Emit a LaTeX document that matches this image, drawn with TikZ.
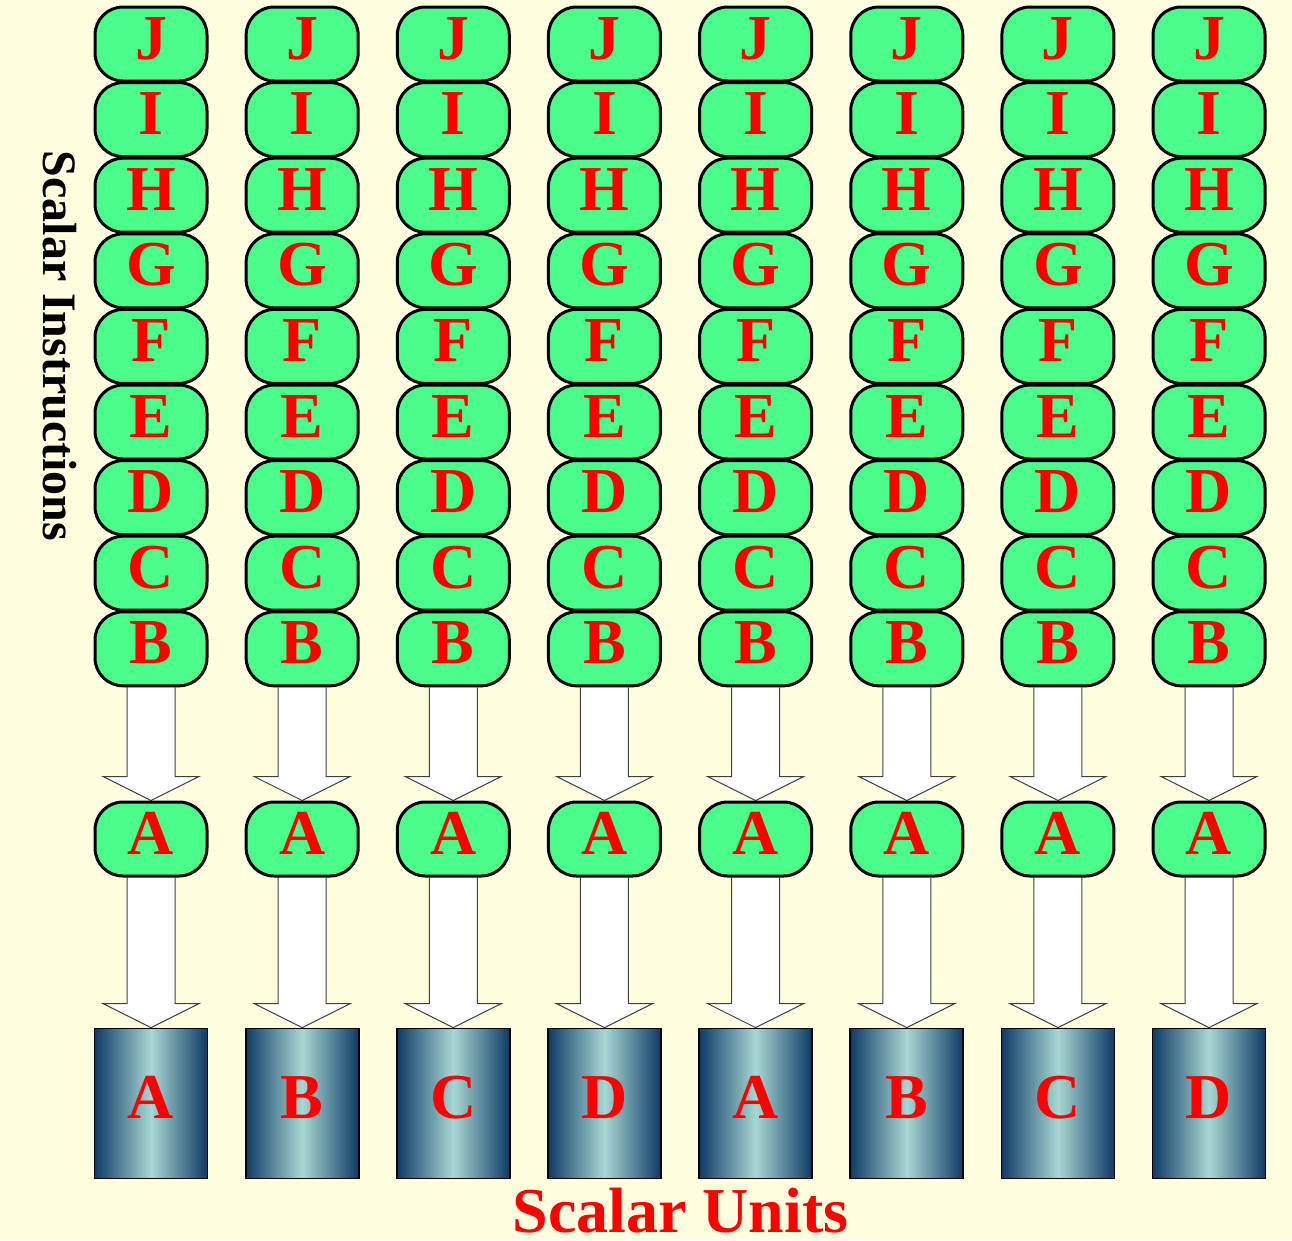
\documentclass[tikz,border=0pt]{standalone}
\usepackage{fontspec}
\setmainfont{Liberation Serif}
\usetikzlibrary{calc,backgrounds}
\definecolor{bgyellow}{HTML}{FFFFE0}
\definecolor{instgreen}{HTML}{4AFC8A}
\definecolor{unitdark}{HTML}{0E3A66}
\definecolor{unitlight}{HTML}{A8D8D3}
\begin{document}
\begin{tikzpicture}[x=1pt,y=-1pt,
  letterfont/.style={font=\fontsize{64}{64}\selectfont\bfseries},
  instr/.style={draw=black, line width=3pt, fill=instgreen, rounded corners=28pt,
    minimum width=112pt, minimum height=74pt, inner sep=0pt, text=red, letterfont,
    text height=42pt, text depth=12pt},
  unit/.style={draw=black, line width=1.8pt, left color=unitdark, right color=unitdark,
    middle color=unitlight, minimum width=113pt, minimum height=150pt, inner sep=0pt,
    text=red, letterfont, text height=42pt, text depth=12pt},
  fatarrow/.style={draw=black!75, line width=1pt, fill=white, line join=miter}]
\useasboundingbox (0,0) rectangle (1292,1240);
\begin{scope}[on background layer]
  \fill[bgyellow] (0,0) rectangle (1292,1240);
\end{scope}
\foreach \i/\U in {0/A,1/B,2/C,3/D,4/A,5/B,6/C,7/D} {
  \pgfmathsetmacro\cx{151+151.15*\i}
  \foreach \L [count=\k from 0] in {J,I,H,G,F,E,D,C,B} {
    \node[instr] (s\i-\L) at (\cx,{44+75.6*\k}) {\L};
  }
  \node[instr] (a\i) at (\cx,839) {A};
  \node[unit] (u\i) at (\cx,1103.5) {\U};
}
\begin{scope}[on background layer]
\foreach \i in {0,...,7} {
  \draw[fatarrow] ($(s\i-B.south)+(-24pt,0)$) -- ($(a\i.north)+(-24pt,24pt)$)
    -- ($(a\i.north)+(-48pt,24pt)$) -- (a\i.north) -- ($(a\i.north)+(48pt,24pt)$)
    -- ($(a\i.north)+(24pt,24pt)$) -- ($(s\i-B.south)+(24pt,0)$);
  \draw[fatarrow] ($(a\i.south)+(-24pt,0)$) -- ($(u\i.north)+(-24pt,24pt)$)
    -- ($(u\i.north)+(-48pt,24pt)$) -- (u\i.north) -- ($(u\i.north)+(48pt,24pt)$)
    -- ($(u\i.north)+(24pt,24pt)$) -- ($(a\i.south)+(24pt,0)$);
}
\end{scope}
\node[font=\fontsize{64}{64}\selectfont\bfseries, text=red, anchor=base, inner sep=0pt,
  text depth=0pt] (units) at (680.5,1232) {Scalar Units};
\node[font=\fontsize{48}{48}\selectfont\bfseries, rotate=-90, anchor=base, inner sep=0pt]
  (instrlabel) at (43,346) {Scalar Instructions};
\end{tikzpicture}
\end{document}
